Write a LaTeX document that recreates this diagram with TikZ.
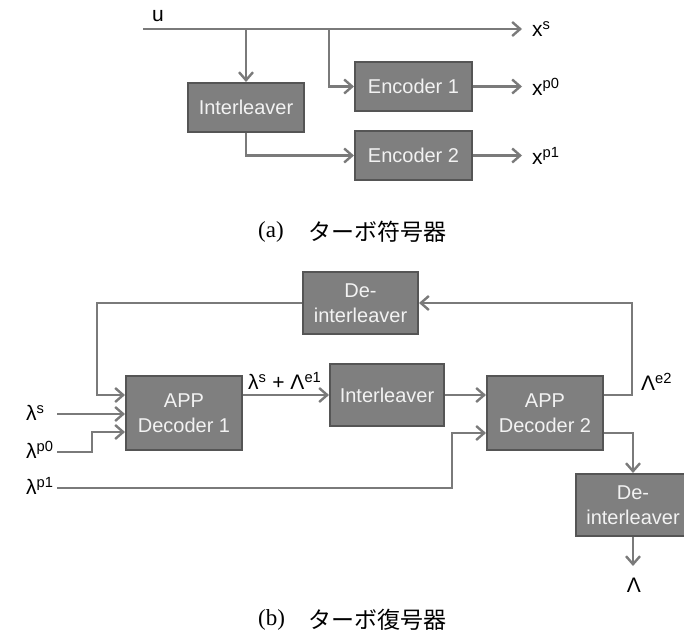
\documentclass[tikz,border=0pt]{standalone}
\usepackage{fontspec}
\setmainfont{Liberation Sans}
\newfontfamily\jpfont{Noto Sans CJK JP}
\newfontfamily\serfont{Liberation Serif}
\usetikzlibrary{arrows.meta}
\definecolor{boxfill}{HTML}{7F7F7F}
\definecolor{boxline}{HTML}{555555}
\definecolor{wire}{HTML}{7A7A7A}
\definecolor{boxtext}{HTML}{F2F2F2}
\begin{document}
\begin{tikzpicture}[x=1pt,y=-1pt,
  blk/.style={draw=boxline,line width=2pt,fill=boxfill,text=boxtext,
    minimum width=116pt,minimum height=49pt,inner sep=0pt,align=center,
    font=\fontsize{20}{25}\selectfont},
  tall/.style={blk,minimum height=62pt},
  dtall/.style={blk,minimum height=74pt},
  wirel/.style={draw=wire,line width=2.8pt},
  arr/.style={wirel,-{Straight Barb[length=8pt,width=14pt,line width=2.4pt]}},
  lab/.style={font=\fontsize{21}{24}\selectfont,inner sep=0pt},
  captxt/.style={font=\fontsize{23}{26}\selectfont,inner sep=0pt}
]
\useasboundingbox (0,0) rectangle (684,631);

% ---------- encoder ----------
\node[blk] (intA) at (246,107.5) {Interleaver};
\node[blk,minimum width=117pt] (enc1) at (413.5,86.5) {Encoder 1};
\node[blk,minimum width=117pt] (enc2) at (413.5,155.5) {Encoder 2};

\coordinate (uS) at (143,29);
\coordinate (xsE) at (522,29);
\coordinate (b1) at (246,29);
\coordinate (b2) at (329,29);
\coordinate (xp0) at (522,86.5);
\coordinate (xp1) at (522,155.5);

\node[lab,anchor=south west] (ulab) at (152,22) {u};
\node[lab,anchor=west] (xslab) at (532,29) {x\textsuperscript{s}};
\node[lab,anchor=west] (xp0lab) at (532,87) {x\textsuperscript{p0}};
\node[lab,anchor=west] (xp1lab) at (532,156) {x\textsuperscript{p1}};

\draw[arr] (uS) -- (xsE);
\draw[arr] (b1) -- (intA.north);
\draw[arr] (b2) |- (enc1.west);
\draw[arr] (enc1.east) -- (xp0);
\draw[arr] (intA.south) |- (enc2.west);
\draw[arr] (enc2.east) -- (xp1);

\node[captxt,anchor=west] (capA1) at (258,232) {\serfont (a)};
\node[captxt,anchor=west] (capA2) at (308,232) {\jpfont ターボ符号器};

% ---------- decoder ----------
\node[tall,minimum width=115pt] (deintA) at (360.5,303) {De-\\interleaver};
\node[dtall] (dec1) at (184,413) {APP\\Decoder 1};
\node[tall,minimum width=114pt] (intB) at (387,395) {Interleaver};
\node[dtall] (dec2) at (545,413) {APP\\Decoder 2};
\node[tall,minimum width=115pt] (deintB) at (633,505) {De-\\interleaver};

\coordinate (fb) at (97,395);
\coordinate (ls) at (57,414);
\coordinate (lp0) at (57,452);
\coordinate (lp0b) at (92,432);
\coordinate (lp1) at (57,488);
\coordinate (lp1b) at (452,433);
\coordinate (fr) at (632,395);
\coordinate (o2) at (633,433);
\coordinate (outL) at (633,566);

\draw[arr] (deintA.west) -| (fb) -- (fb -| dec1.west);
\draw[arr] (ls) -- (ls -| dec1.west);
\draw[arr] (lp0) -| (lp0b) -- (lp0b -| dec1.west);
\draw[arr] (dec1.east |- intB.west) -- (intB.west);
\draw[arr] (intB.east) -- (dec2.west |- intB.east);
\draw[arr] (fr -| dec2.east) -- (fr) |- (deintA.east);
\draw[arr] (lp1) -| (lp1b) -- (lp1b -| dec2.west);
\draw[arr] (o2 -| dec2.east) -| (deintB.north);
\draw[arr] (deintB.south) -- (outL);

\node[lab,anchor=west] (lslab) at (26,413) {λ\textsuperscript{s}};
\node[lab,anchor=west] (lp0lab) at (26,450) {λ\textsuperscript{p0}};
\node[lab,anchor=west] (lp1lab) at (26,486) {λ\textsuperscript{p1}};
\node[lab,anchor=west] (sumlab) at (248,381) {λ\textsuperscript{s} + Λ\textsuperscript{e1}};
\node[lab,anchor=west] (le2lab) at (641,382) {Λ\textsuperscript{e2}};
\node[lab] (Llab) at (634,585) {Λ};

\node[captxt,anchor=west] (capB1) at (258,620) {\serfont (b)};
\node[captxt,anchor=west] (capB2) at (308,620) {\jpfont ターボ復号器};
\end{tikzpicture}
\end{document}
